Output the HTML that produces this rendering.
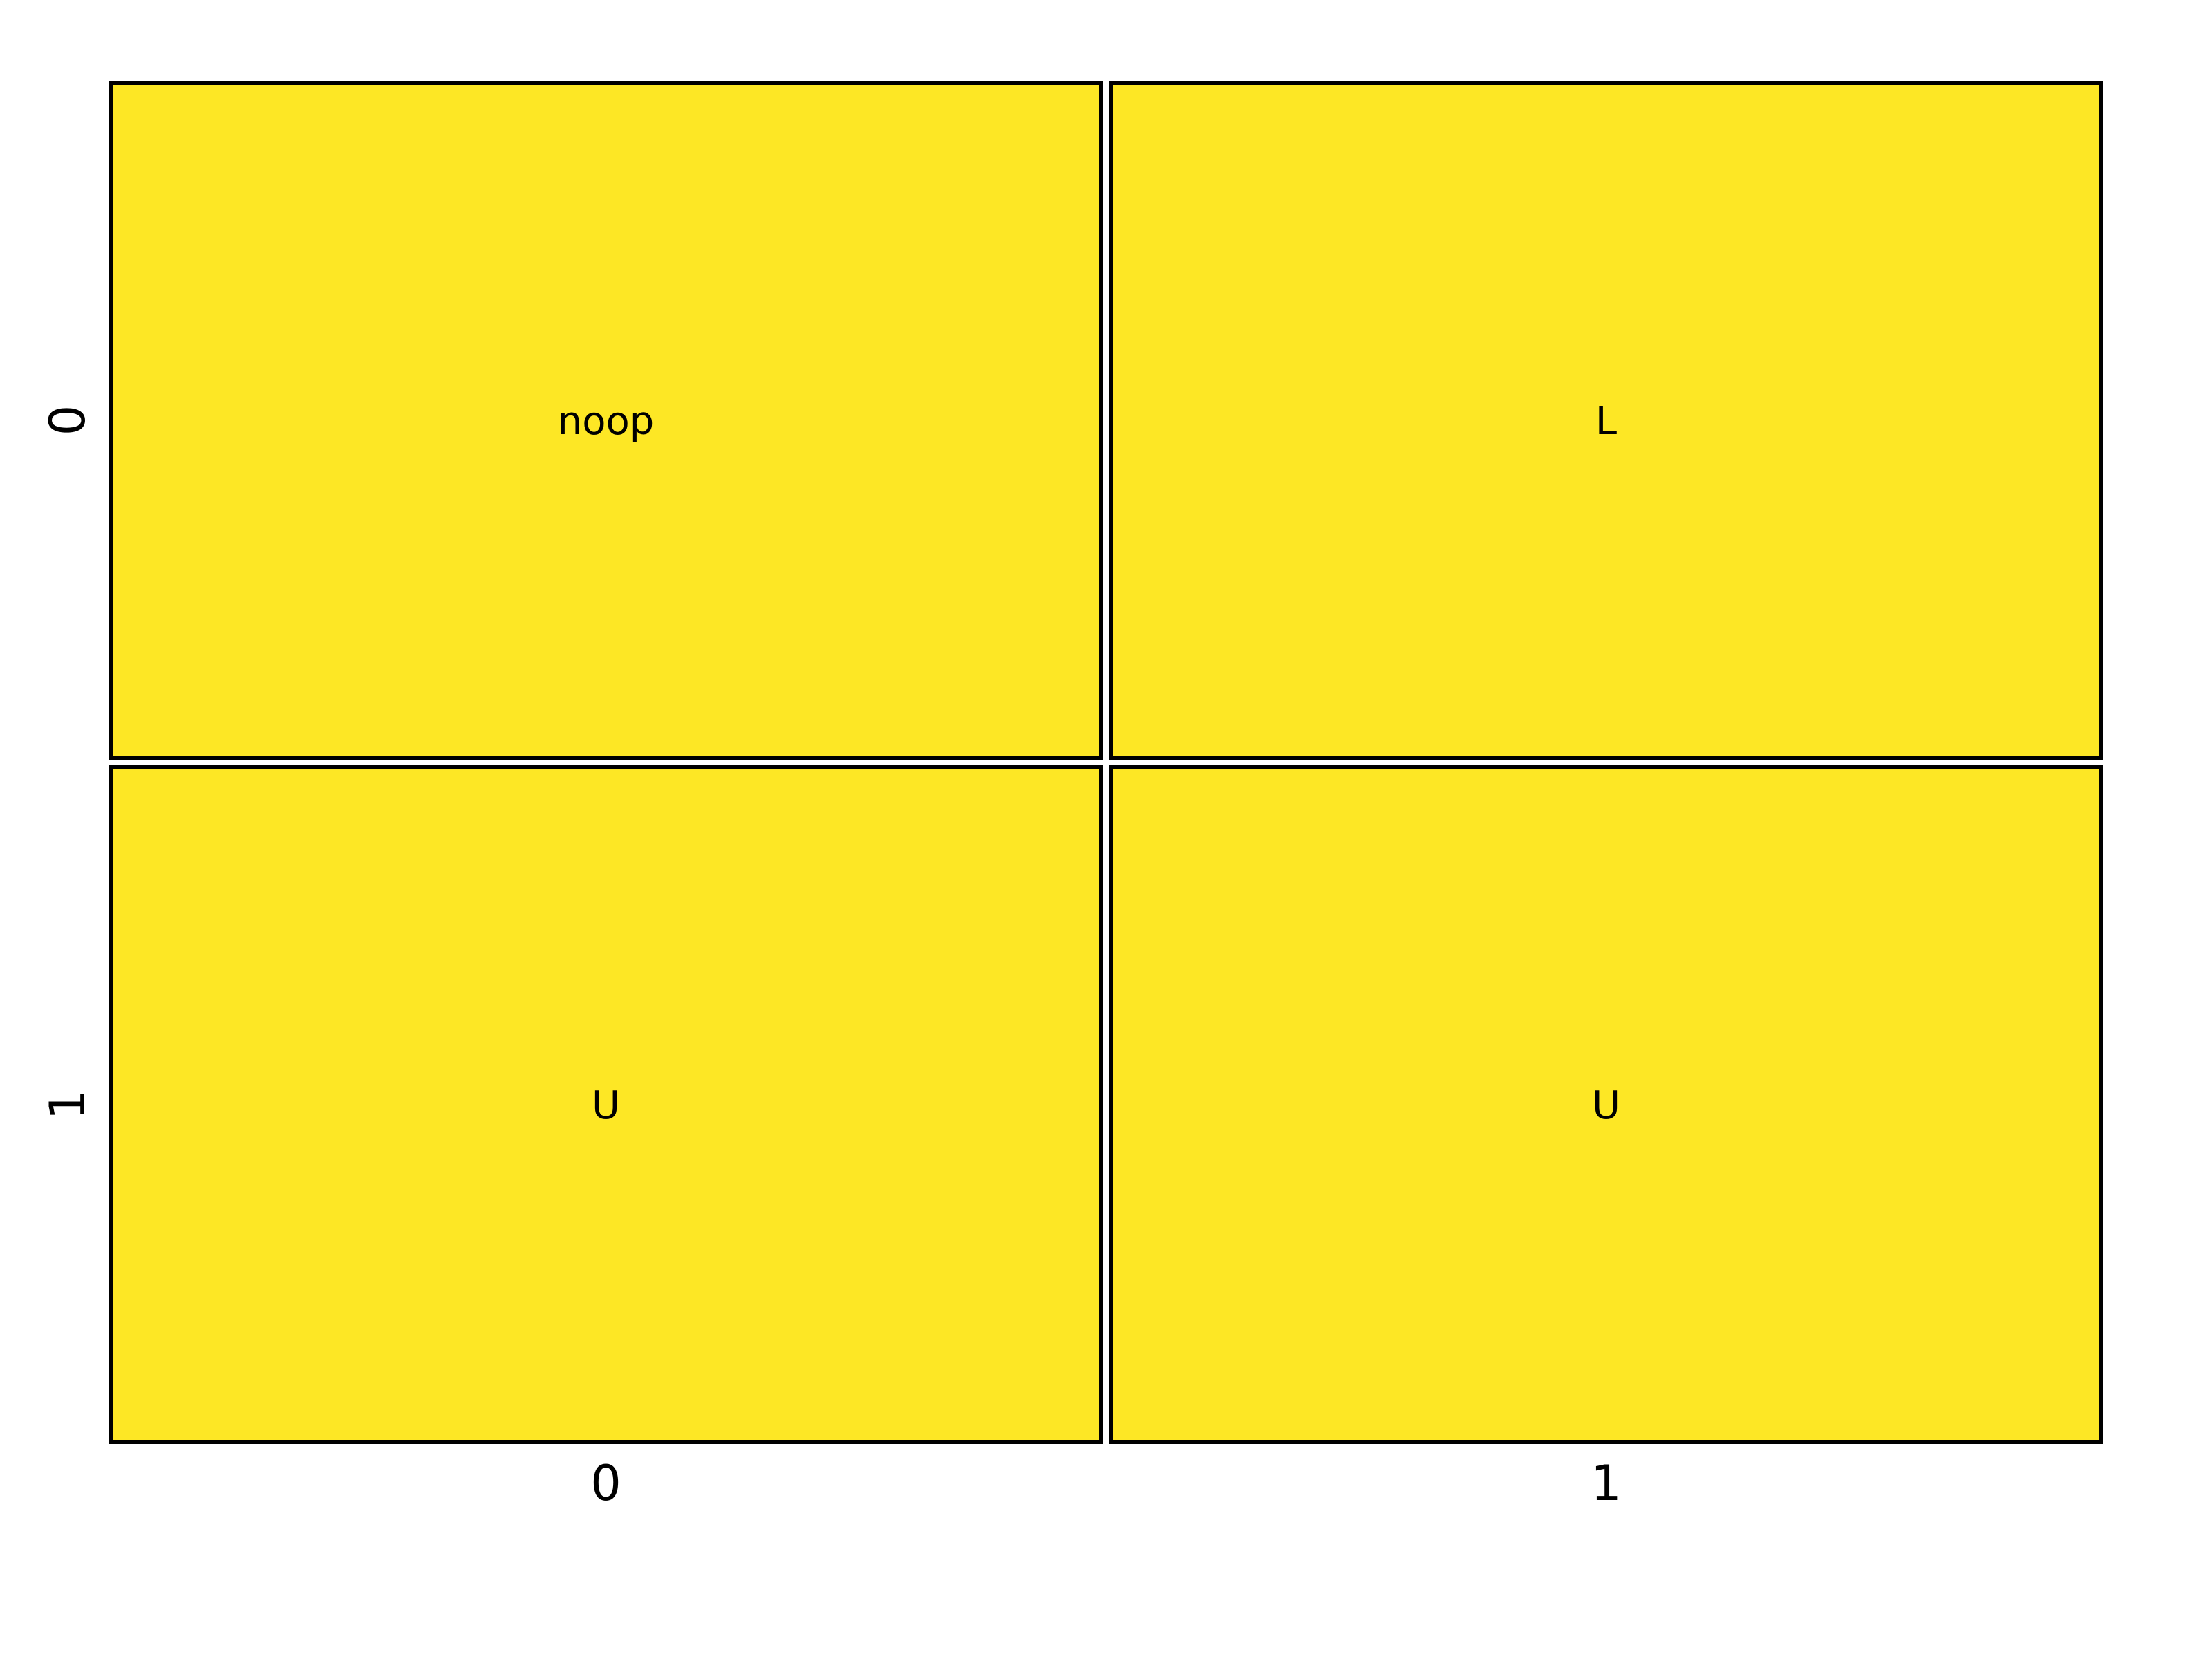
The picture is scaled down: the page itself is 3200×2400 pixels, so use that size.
<!DOCTYPE html>
<html><head><meta charset="utf-8"><style>
html,body{margin:0;padding:0;background:#fff;}
svg{display:block;}
text{font-family:"DejaVu Sans","Liberation Sans",sans-serif;fill:#000;}
</style></head><body>
<svg id="chart" width="3200" height="2400" viewBox="0 0 3200 2400" xmlns="http://www.w3.org/2000/svg">
<g id="cells"></g>
<g id="xticks"></g>
<g id="yticks"></g>
</svg>
<script>
const cols = [0, 1];
const rows = [0, 1];
const colLabels = ["0", "1"];
const rowLabels = ["0", "1"];
const cellLabels = [["noop", "L"], ["U", "U"]];
const cellValues = [[1, 1], [1, 1]];

const NS = "http://www.w3.org/2000/svg";
const plotLeft = 153, plotRight = 3047, plotTop = 113, plotBottom = 2093;
const cw = (plotRight - plotLeft) / cols.length, ch = (plotBottom - plotTop) / rows.length;
const gap = 7;
function xPos(c){ return plotLeft + c * cw; }
function yPos(r){ return plotTop + r * ch; }
function color(v){ return v >= 1 ? "#fde725" : "#440154"; }

const gc = document.getElementById("cells");
rows.forEach((r, ri) => {
  cols.forEach((c, ci) => {
    const rect = document.createElementNS(NS, "rect");
    rect.setAttribute("x", xPos(ci) + gap);
    rect.setAttribute("y", yPos(ri) + gap);
    rect.setAttribute("width", cw - 2 * gap);
    rect.setAttribute("height", ch - 2 * gap);
    rect.setAttribute("fill", color(cellValues[ri][ci]));
    rect.setAttribute("stroke", "#000");
    rect.setAttribute("stroke-width", "6");
    
    
    gc.appendChild(rect);
    const t = document.createElementNS(NS, "text");
    t.setAttribute("x", xPos(ci) + cw / 2);
    t.setAttribute("y", yPos(ri) + ch / 2 + 20);
    t.setAttribute("text-anchor", "middle");
    t.setAttribute("font-size", "56");
    t.textContent = cellLabels[ri][ci];
    
    
    gc.appendChild(t);
  });
});
const gx = document.getElementById("xticks");
colLabels.forEach((lab, i) => {
  const t = document.createElementNS(NS, "text");
  t.setAttribute("x", xPos(i) + cw / 2);
  t.setAttribute("y", 2170);
  t.setAttribute("text-anchor", "middle");
  t.setAttribute("font-size", "70");
  t.textContent = lab;
  
  
  gx.appendChild(t);
});
const gy = document.getElementById("yticks");
rowLabels.forEach((lab, i) => {
  const t = document.createElementNS(NS, "text");
  const cx = 122, cy = yPos(i) + ch / 2;
  t.setAttribute("x", cx);
  t.setAttribute("y", cy);
  t.setAttribute("text-anchor", "middle");
  t.setAttribute("font-size", "70");
  t.setAttribute("transform", "rotate(-90 " + cx + " " + cy + ")");
  t.textContent = lab;
  
  
  gy.appendChild(t);
});
</script>
</body></html>
